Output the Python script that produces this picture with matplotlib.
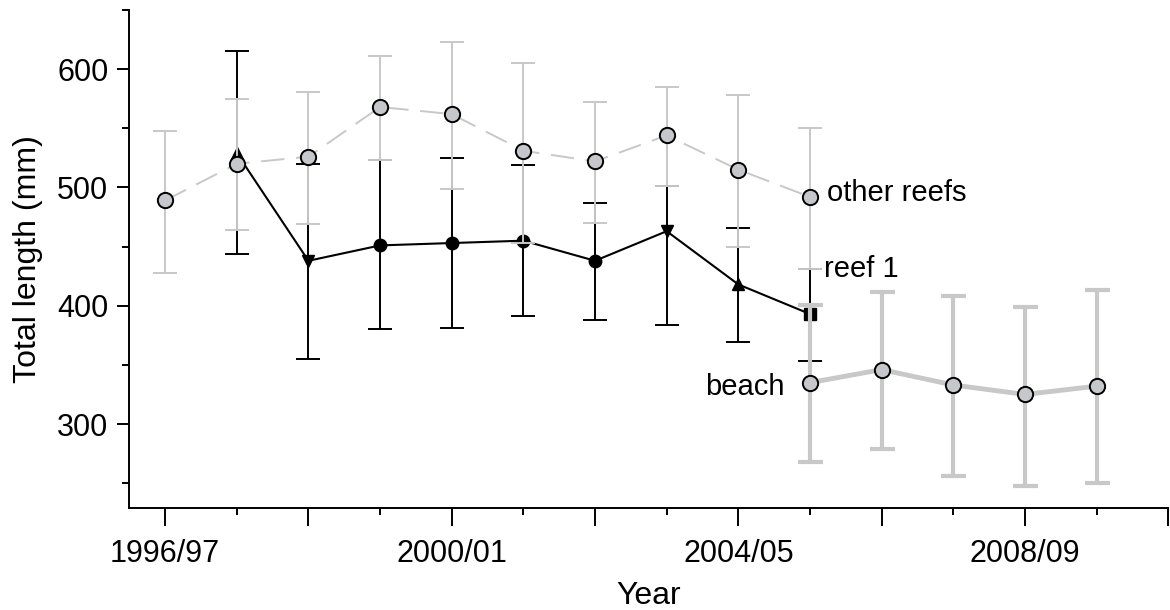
import numpy as np
import matplotlib
matplotlib.use("Agg")
import matplotlib.pyplot as plt

plt.rcParams['font.family'] = ['Liberation Sans', 'DejaVu Sans']

seasons = ["1996/97", "1997/98", "1998/99", "1999/00", "2000/01", "2001/02",
           "2002/03", "2003/04", "2004/05", "2005/06", "2006/07", "2007/08",
           "2008/09", "2009/10"]

# other reefs, 1996/97 - 2005/06
other_idx = list(range(0, 10))
other_mean = [489, 520, 526, 568, 562, 531, 522, 544, 515, 492]
other_hi = [548, 575, 581, 611, 623, 605, 572, 585, 578, 550]
other_lo = [428, 464, 469, 523, 499, 453, 470, 501, 450, 431]

# reef 1, 1997/98 - 2005/06
reef1_idx = list(range(1, 10))
reef1_mean = [529, 438, 451, 453, 455, 438, 463, 418, 393]
reef1_hi = [615, 520, 523, 525, 519, 487, 501, 466, 431]
reef1_lo = [444, 355, 380, 381, 391, 388, 384, 369, 353]
reef1_markers = ['^', 'v', 'o', 'o', 'o', 'o', 'v', '^', 's']

# beach, 2005/06 - 2009/10
beach_idx = list(range(9, 14))
beach_mean = [335, 346, 333, 325, 332]
beach_hi = [401, 412, 408, 399, 413]
beach_lo = [268, 279, 256, 248, 250]

gray = '#c8c8c8'
fill = '#c6c7ca'


def err(mean, lo, hi):
    mean = np.array(mean)
    return [mean - np.array(lo), np.array(hi) - mean]


fig = plt.figure(figsize=(11.7, 6.1), dpi=100)
ax = fig.add_axes([0.1105, 0.1672, 0.888, 0.8164])

# reef 1
ax.errorbar(reef1_idx, reef1_mean, yerr=err(reef1_mean, reef1_lo, reef1_hi),
            fmt='none', ecolor='black', elinewidth=1.4, capsize=8.5, capthick=1.4,
            zorder=2)
ax.plot(reef1_idx, reef1_mean, color='black', lw=1.5, zorder=3)
for x, y, m in zip(reef1_idx, reef1_mean, reef1_markers):
    ms = 9 if m != 's' else 8.5
    ax.plot(x, y, marker=m, ms=ms, color='black', mec='black', ls='none', zorder=4)

# other reefs
ax.errorbar(other_idx, other_mean, yerr=err(other_mean, other_lo, other_hi),
            fmt='none', ecolor=gray, elinewidth=1.4, capsize=8.5, capthick=1.4,
            zorder=5)
ax.plot(other_idx, other_mean, color=gray, lw=1.4, dashes=(12, 6), zorder=5)
ax.plot(other_idx, other_mean, 'o', ms=11, mfc=fill, mec='black', mew=1.4,
        ls='none', zorder=6)

# beach
ax.errorbar(beach_idx, beach_mean, yerr=err(beach_mean, beach_lo, beach_hi),
            fmt='none', ecolor=gray, elinewidth=3.0, capsize=9, capthick=3.0,
            zorder=7)
ax.plot(beach_idx, beach_mean, color=gray, lw=3.5, zorder=7)
ax.plot(beach_idx, beach_mean, 'o', ms=11, mfc=fill, mec='black', mew=1.4,
        ls='none', zorder=8)

ax.text(9.24, 495, "other reefs", fontsize=21, va='center', ha='left')
ax.text(9.19, 431, "reef 1", fontsize=21, va='center', ha='left')
ax.text(8.65, 331, "beach", fontsize=21, va='center', ha='right')

ax.set_xlim(-0.5, 14)
ax.set_ylim(229, 650)

ax.set_xticks(range(0, 15, 2))
ax.set_xticklabels([seasons[i] if i % 4 == 0 and i < len(seasons) else ""
                    for i in range(0, 15, 2)])
ax.set_xticks(range(1, 15, 2), minor=True)
ax.set_yticks([300, 400, 500, 600])
ax.set_yticks([250, 350, 450, 550, 650], minor=True)

ax.tick_params(axis='both', which='major', labelsize=22, width=1.4, color='black')
ax.tick_params(axis='x', which='major', length=13, pad=9)
ax.tick_params(axis='y', which='major', length=9, pad=6)
ax.tick_params(axis='both', which='minor', length=5, width=1.4)

for side in ['top', 'right']:
    ax.spines[side].set_visible(False)
for side in ['left', 'bottom']:
    ax.spines[side].set_linewidth(1.4)

ax.set_xlabel("Year", fontsize=23, labelpad=9)
ax.set_ylabel("Total length (mm)", fontsize=23, labelpad=10)

fig.savefig("out.png", dpi=100)
